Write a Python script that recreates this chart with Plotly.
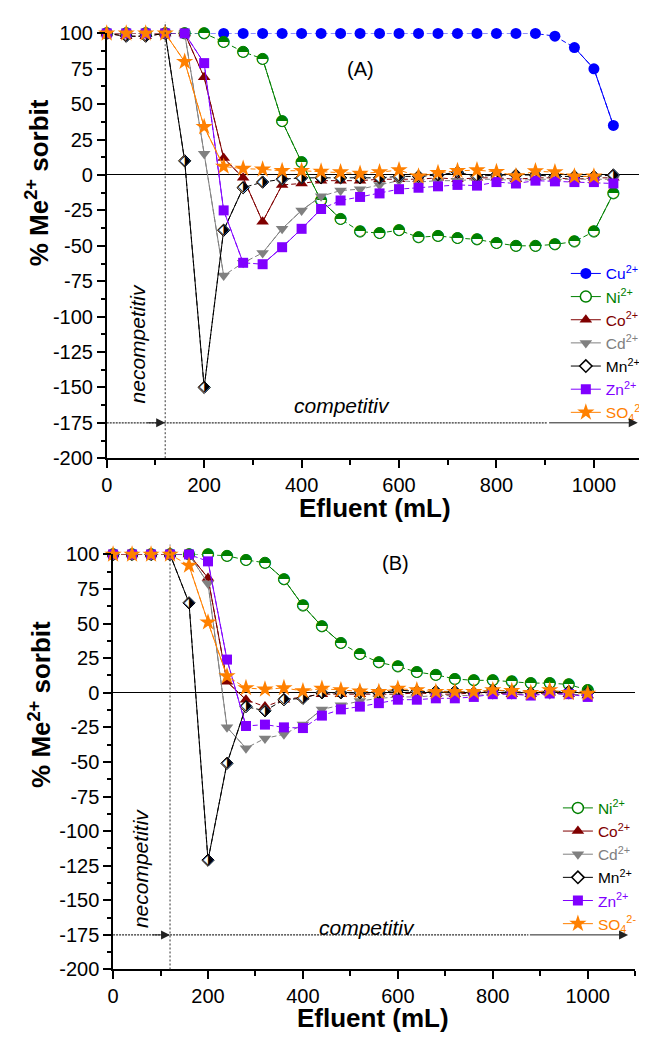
import plotly.graph_objects as go

W, H = 647, 1041
OFF = 8  # default page body margin, compensated in all pixel placements
FONT = "Liberation Sans, Arial, sans-serif"

# ---------------- data: panel (A) ----------------
x_A = [0, 40, 80, 120, 160, 200, 240, 280, 320, 360, 400, 440, 480, 520, 560,
       600, 640, 680, 720, 760, 800, 840, 880, 920, 960, 1000, 1040]
x_A_so4 = [0, 40, 80, 120, 160, 200, 240, 280, 320, 360, 400, 440, 480, 520, 560,
           600, 640, 680, 720, 760, 800, 840, 880, 920, 960, 1000]
cu_A = [100, 100, 100, 100, 100, 100, 100, 100, 100, 100, 100, 100, 100, 100, 100,
        100, 100, 100, 100, 100, 100, 100, 100, 98, 90, 75, 35]
ni_A = [100, 100, 100, 100, 100, 100, 94, 87, 82, 38, 9, -18, -31, -40, -41,
        -39, -44, -43, -44.5, -45.5, -48, -50, -50, -49, -47, -40, -13]
co_A = [100, 98, 98, 100, 100, 69, 12, -2, -33, -7, -6, -4, -4, -4, -3,
        -3, -3, -2, -3, -2, -2, -3, -2, -2, -3, -2, -2]
cd_A = [100, 100, 100, 100, 100, 15, -71, -62, -55, -38, -25, -15, -11, -10, -7,
        -4, -5, -4, -4, -3, -3, -4, -3, -3, -3, -3, -3]
mn_A = [100, 98, 98, 100, 10, -150, -39, -9, -5, -3, -2, -2, -2, -2, -2,
        -1, -1, 0, 2, -1, 0, 0, 0, -1, -1, -1, 0]
zn_A = [100, 100, 100, 100, 100, 79, -25, -62, -63, -51, -38, -24, -18, -15.5, -13,
        -10, -9, -8, -7, -7.5, -5, -6, -4, -4.5, -5, -5, -6]
so4_A = [100, 100, 100, 100, 80, 34, 6, 4.5, 4, 3, 3, 2.5, 2, 1, 2,
         3.5, -1, 1.5, 3, 3.4, 2.3, -0.7, 2.7, 2, -1, -1]

# ---------------- data: panel (B) ----------------
x_B = [0, 40, 80, 120, 160, 200, 240, 280, 320, 360, 400, 440, 480, 520, 560,
       600, 640, 680, 720, 760, 800, 840, 880, 920, 960, 1000]
ni_B = [100, 100, 100, 100, 100, 100, 99, 96, 94, 82, 63, 48, 36, 28, 22,
        19, 15, 13, 10, 9, 9, 8, 7, 7, 6, 2]
co_B = [100, 100, 100, 100, 100, 83, 8, -5, -10, -5, -3, -1, -1, -1, -1,
        -1, 0, -1, -1, 0, 0, -1, -1, 0, -1, -2]
cd_B = [100, 100, 100, 100, 100, 79, -25, -40, -33, -30, -23, -12, -9, -6, -4,
        -3, -3, -2, -2, -2, -1, -1, -1, -1, -1, -2]
mn_B = [100, 100, 100, 100, 65, -121, -51, -10, -13, -5, -4, 0, 0, 0, 0,
        2, 1, 1, 1, 0, 2, 1, 0, 1, 1, 0]
zn_B = [100, 100, 100, 100, 100, 95, 24, -24, -23, -25, -25.5, -16.5, -12, -10, -7.5,
        -5, -5, -4, -4, -3, -1, -1, -2, -0.5, -1, -3]
so4_B = [100, 100, 100, 100, 92, 51, 12, 3.5, 2.5, 3.5, 1.3, 3, 2, 1, 0.7,
         3, 2, 0.7, 0.7, 0.7, 2, 1.4, 0, 2, 0, -0.5]

x_ticks = [0, 200, 400, 600, 800, 1000]
x_ticklabels = ["0", "200", "400", "600", "800", "1000"]
y_ticks = [-200, -175, -150, -125, -100, -75, -50, -25, 0, 25, 50, 75, 100]
y_ticklabels = ["-200", "-175", "-150", "-125", "-100", "-75", "-50", "-25",
                "0", "25", "50", "75", "100"]

# ---------------- geometry (page pixels) ----------------
A_x0, A_x1, A_yt, A_yb = 101.6, 642.5, 22.7, 456.7
B_x0, B_x1, B_yt, B_yb = 108.0, 635.0, 555.0, 979.0
XMAX, YMIN, YMAX = 1100, -200, 100

STY = {
    "Cu": dict(color="#0000FF", symbol="circle", size=11, label="Cu<sup>2+</sup>"),
    "Ni": dict(color="#008000", symbol="circle", size=11, label="Ni<sup>2+</sup>"),
    "Co": dict(color="#800000", symbol="triangle-up", size=11, label="Co<sup>2+</sup>"),
    "Cd": dict(color="#808080", symbol="triangle-down", size=11, label="Cd<sup>2+</sup>"),
    "Mn": dict(color="#000000", symbol="diamond", size=9.5, label="Mn<sup>2+</sup>"),
    "Zn": dict(color="#8000FF", symbol="square", size=10, label="Zn<sup>2+</sup>"),
    "SO4": dict(color="#FF8000", symbol="star", size=13, label="SO<sub>4</sub><sup>2-</sup>"),
}

fig = go.Figure()


def solid_segments(xs, ys, kx, ky, thr=24):
    sx, sy = [], []
    for i in range(len(xs) - 1):
        dx = (xs[i + 1] - xs[i]) * kx
        dy = (ys[i + 1] - ys[i]) * ky
        if (dx * dx + dy * dy) ** 0.5 > thr:
            sx += [xs[i], xs[i + 1], None]
            sy += [ys[i], ys[i + 1], None]
    return sx, sy


def add_series(key, xs, ys, xa, ya, kx, ky):
    s = STY[key]
    c = s["color"]
    common = dict(xaxis=xa, yaxis=ya, showlegend=False, hoverinfo="skip", cliponaxis=False)
    fig.add_trace(go.Scatter(x=xs, y=ys, mode="lines",
                             line=dict(color=c, width=1, dash="5px,3px"), **common))
    sx, sy = solid_segments(xs, ys, kx, ky)
    fig.add_trace(go.Scatter(x=sx, y=sy, mode="lines", connectgaps=False,
                             line=dict(color=c, width=1), **common))
    if key == "Ni":
        fig.add_trace(go.Scatter(x=xs, y=ys, mode="markers",
                                 marker=dict(symbol="circle", size=s["size"], color="white",
                                             line=dict(color=c, width=1)), **common))
        fig.add_trace(go.Scatter(x=xs, y=ys, mode="text", text=["\u25D3"] * len(xs),
                                 textposition="middle center",
                                 textfont=dict(family="DejaVu Sans", size=15, color=c), **common))
    elif key == "Mn":
        fig.add_trace(go.Scatter(x=xs, y=ys, mode="markers",
                                 marker=dict(symbol="diamond", size=s["size"], color="white",
                                             line=dict(color="black", width=1)), **common))
        fig.add_trace(go.Scatter(x=xs, y=ys, mode="text", text=["\u2B17"] * len(xs),
                                 textposition="middle center",
                                 textfont=dict(family="DejaVu Sans", size=15, color="black"),
                                 **common))
    else:
        fig.add_trace(go.Scatter(x=xs, y=ys, mode="markers",
                                 marker=dict(symbol=s["symbol"], size=s["size"], color=c,
                                             line=dict(width=0)), **common))


def add_legend_entry(key, xa, ya, legend):
    s = STY[key]
    c = s["color"]
    if key == "Ni":
        mk = dict(symbol="circle", size=s["size"], color="white", line=dict(color=c, width=1.5))
    elif key == "Mn":
        mk = dict(symbol="diamond", size=s["size"], color="white", line=dict(color="black", width=1.5))
    else:
        mk = dict(symbol=s["symbol"], size=s["size"], color=c, line=dict(width=0))
    fig.add_trace(go.Scatter(x=[None], y=[None], mode="lines+markers", xaxis=xa, yaxis=ya,
                             line=dict(color=c, width=1), marker=mk, legend=legend,
                             name='<span style="color:%s">%s</span>' % (c, s["label"])))


kxA = (A_x1 - A_x0) / XMAX
kyA = (A_yb - A_yt) / (YMAX - YMIN)
kxB = (B_x1 - B_x0) / XMAX
kyB = (B_yb - B_yt) / (YMAX - YMIN)

series_A = [("Cu", x_A, cu_A), ("Ni", x_A, ni_A), ("Co", x_A, co_A), ("Cd", x_A, cd_A),
            ("Mn", x_A, mn_A), ("Zn", x_A, zn_A), ("SO4", x_A_so4, so4_A)]
series_B = [("Ni", x_B, ni_B), ("Co", x_B, co_B), ("Cd", x_B, cd_B),
            ("Mn", x_B, mn_B), ("Zn", x_B, zn_B), ("SO4", x_B, so4_B)]

for k, xs, ys in series_A:
    add_series(k, xs, ys, "x", "y", kxA, kyA)
for k, xs, ys in series_B:
    add_series(k, xs, ys, "x2", "y2", kxB, kyB)
for k, xs, ys in series_A:
    add_legend_entry(k, "x", "y", "legend")
for k, xs, ys in series_B:
    add_legend_entry(k, "x2", "y2", "legend2")

axis_common = dict(showline=True, linecolor="black", linewidth=1.5, ticks="outside",
                   ticklen=8, tickwidth=1.5, tickcolor="black", showgrid=False,
                   tickfont=dict(family=FONT, size=20, color="black"))
xcommon = dict(axis_common, range=[0, XMAX], zeroline=False, tickmode="array",
               tickvals=x_ticks, ticktext=x_ticklabels,
               minor=dict(dtick=100, tick0=0, ticks="outside", ticklen=5, tickwidth=1.5,
                          tickcolor="black"))
ycommon = dict(axis_common, range=[YMIN, YMAX], zeroline=True, zerolinecolor="black",
               zerolinewidth=1, tickmode="array", tickvals=y_ticks, ticktext=y_ticklabels,
               minor=dict(dtick=12.5, tick0=0, ticks="outside", ticklen=4, tickwidth=1.5,
                          tickcolor="black"))


def px(xp):
    return (xp - OFF) / W


def py(yp):
    return 1 - (yp - OFF) / H


legend_common = dict(bgcolor="rgba(0,0,0,0)", borderwidth=0, xanchor="left", yanchor="top",
                     font=dict(family=FONT, size=15.5, color="black"), tracegroupgap=0)

fig.update_layout(
    width=W, height=H, margin=dict(l=0, r=0, t=0, b=0),
    paper_bgcolor="white", plot_bgcolor="white", font=dict(family=FONT, color="black"),
    xaxis=dict(xcommon, domain=[px(A_x0), px(A_x1)], anchor="y"),
    yaxis=dict(ycommon, domain=[py(A_yb), py(A_yt)], anchor="x"),
    xaxis2=dict(xcommon, domain=[px(B_x0), px(B_x1)], anchor="y2"),
    yaxis2=dict(ycommon, domain=[py(B_yb), py(B_yt)], anchor="x2"),
    legend=dict(legend_common, x=px(565), y=py(251)),
    legend2=dict(legend_common, x=px(557), y=py(797)),
)

shapes = [
    dict(type="line", xref="x", yref="paper", x0=120, x1=120, y0=py(A_yb), y1=py(11),
         line=dict(color="#333333", width=1, dash="2px,2px")),
    dict(type="line", xref="x2", yref="paper", x0=120, x1=120, y0=py(B_yb), y1=py(545),
         line=dict(color="#333333", width=1, dash="2px,2px")),
    dict(type="line", xref="x", yref="y", x0=0, x1=905, y0=-175, y1=-175,
         line=dict(color="#333333", width=1.2, dash="2px,1px")),
    dict(type="line", xref="x2", yref="y2", x0=0, x1=875, y0=-175, y1=-175,
         line=dict(color="#333333", width=1.2, dash="2px,1px")),
]

ann = []
for xa, ya, xend, xmid in [("x", "y", 1090, 905), ("x2", "y2", 1085, 875)]:
    ann.append(dict(x=120, y=-175, ax=80, ay=-175, xref=xa, yref=ya, axref=xa, ayref=ya,
                    showarrow=True, arrowhead=2, arrowsize=1.8, arrowwidth=1,
                    arrowcolor="#222222", text="", standoff=0))
    ann.append(dict(x=xend, y=-175, ax=xmid, ay=-175, xref=xa, yref=ya, axref=xa, ayref=ya,
                    showarrow=True, arrowhead=2, arrowsize=1.8, arrowwidth=1,
                    arrowcolor="#222222", text="", standoff=0))

txt_font = dict(family=FONT, size=21, color="black")
title_font = dict(family=FONT, size=26, color="black")
cm = dict(showarrow=False, xanchor="center", yanchor="middle")
ann += [
    dict(x=521, y=75, xref="x", yref="y", text="(A)",
         font=dict(family=FONT, size=20, color="black"), **cm),
    dict(x=596, y=93.6, xref="x2", yref="y2", text="(B)",
         font=dict(family=FONT, size=20, color="black"), **cm),
    dict(x=64, y=-119, xref="x", yref="y", text="<i>necompetitiv</i>", textangle=-90,
         font=txt_font, **cm),
    dict(x=58, y=-127, xref="x2", yref="y2", text="<i>necompetitiv</i>", textangle=-90,
         font=txt_font, **cm),
    dict(x=483, y=-162.6, xref="x", yref="y", text="<i>competitiv</i>", font=txt_font, **cm),
    dict(x=535, y=-169.5, xref="x2", yref="y2", text="<i>competitiv</i>", font=txt_font, **cm),
    dict(x=px(372), y=py(508), xref="paper", yref="paper", text="<b>Efluent (mL)</b>",
         font=title_font, **cm),
    dict(x=px(370), y=py(1029), xref="paper", yref="paper", text="<b>Efluent (mL)</b>",
         font=title_font, **cm),
    dict(x=px(32), y=py(175), xref="paper", yref="paper", textangle=-90,
         text="<b>% Me<sup>2+</sup> sorbit</b>", font=title_font, **cm),
    dict(x=px(34), y=py(708), xref="paper", yref="paper", textangle=-90,
         text="<b>% Me<sup>2+</sup> sorbit</b>", font=title_font, **cm),
]

fig.update_layout(shapes=shapes, annotations=ann)
fig.write_html("out.html")
